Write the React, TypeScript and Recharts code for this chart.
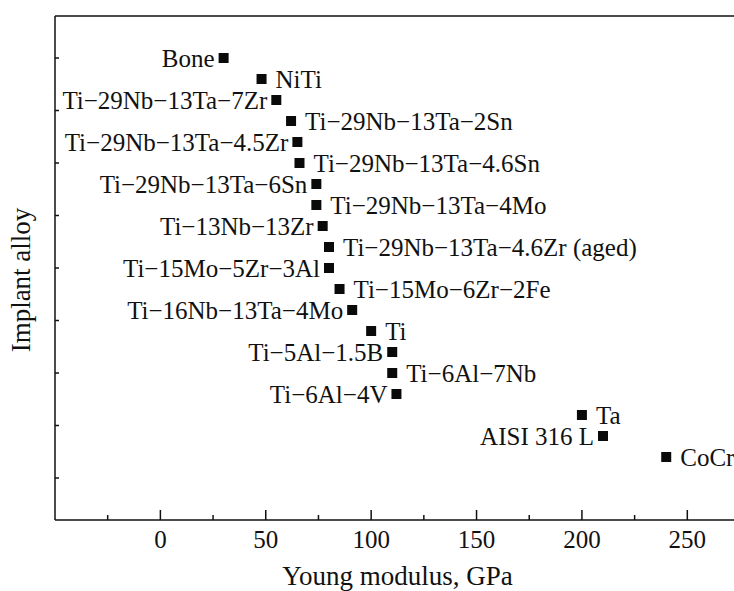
import { Label, Scatter, ScatterChart, XAxis, YAxis } from 'recharts';

const alloyNames = [
  'Bone',
  'NiTi',
  'Ti−29Nb−13Ta−7Zr',
  'Ti−29Nb−13Ta−2Sn',
  'Ti−29Nb−13Ta−4.5Zr',
  'Ti−29Nb−13Ta−4.6Sn',
  'Ti−29Nb−13Ta−6Sn',
  'Ti−29Nb−13Ta−4Mo',
  'Ti−13Nb−13Zr',
  'Ti−29Nb−13Ta−4.6Zr (aged)',
  'Ti−15Mo−5Zr−3Al',
  'Ti−15Mo−6Zr−2Fe',
  'Ti−16Nb−13Ta−4Mo',
  'Ti',
  'Ti−5Al−1.5B',
  'Ti−6Al−7Nb',
  'Ti−6Al−4V',
  'Ta',
  'AISI 316 L',
  'CoCr',
];

const youngModulus = [30, 48, 55, 62, 65, 66, 74, 74, 77, 80, 80, 85, 91, 100, 110, 110, 112, 200, 210, 240];

const xTicks = [-25, 0, 25, 50, 75, 100, 125, 150, 175, 200, 225, 250];
const yTicks = [0, 2.5, 5, 7.5, 10, 12.5, 15, 17.5, 20];

const data = alloyNames.map((name, i) => ({ name, modulus: youngModulus[i], row: i }));

const INK = '#111';
const FONT = '"Liberation Serif", "DejaVu Serif", serif';

function BottomTick({ x, y, payload }: any) {
  const major = payload.value % 50 === 0;
  return (
    <g>
      <line x1={x} x2={x} y1={y} y2={y - (major ? 10 : 5)} stroke={INK} strokeWidth={1.5} />
      {major && (
        <text x={x} y={y + 28} textAnchor="middle" fontSize={25} fontFamily={FONT} fill={INK}>
          {payload.value}
        </text>
      )}
    </g>
  );
}

function TopTick({ x, y, payload }: any) {
  const major = payload.value % 50 === 0;
  return <line x1={x} x2={x} y1={y} y2={y + (major ? 10 : 6)} stroke={INK} strokeWidth={1.5} />;
}

function LeftTick({ x, y }: any) {
  return <line x1={x} x2={x + 4} y1={y} y2={y} stroke={INK} strokeWidth={1.5} />;
}

function Marker({ cx, cy, payload }: any) {
  const left = payload.row % 2 === 0;
  return (
    <g>
      <rect x={cx - 5} y={cy - 5} width={10} height={10} fill="#0a0a0a" />
      <text
        x={left ? cx - 9 : cx + 14}
        y={cy + 8.5}
        textAnchor={left ? 'end' : 'start'}
        fontSize={25}
        fontFamily={FONT}
        fill={INK}
      >
        {payload.name}
      </text>
    </g>
  );
}

export default function App() {
  return (
    <div style={{ position: 'absolute', left: 0, top: 0, background: '#fff' }}>
      <ScatterChart width={734} height={591} margin={{ top: 0, right: -6, bottom: 0, left: 0 }}>
        <XAxis
          type="number"
          dataKey="modulus"
          domain={[-50, 275]}
          ticks={xTicks}
          interval={0}
          height={71}
          tickSize={0}
          tickMargin={0}
          tick={<BottomTick />}
          axisLine={{ stroke: INK, strokeWidth: 1.5 }}
          label={
            <Label
              content={({ viewBox }: any) => (
                <text
                  x={viewBox.x + viewBox.width / 2}
                  y={viewBox.y + 65}
                  textAnchor="middle"
                  fontSize={27}
                  fontFamily={FONT}
                  fill={INK}
                >
                  Young modulus, GPa
                </text>
              )}
            />
          }
        />
        <XAxis
          xAxisId="top"
          orientation="top"
          type="number"
          domain={[-50, 275]}
          ticks={xTicks}
          interval={0}
          height={16}
          tickSize={0}
          tickMargin={0}
          tick={<TopTick />}
          axisLine={{ stroke: INK, strokeWidth: 1.5 }}
        />
        <YAxis
          type="number"
          dataKey="row"
          domain={[-2, 22]}
          reversed
          ticks={yTicks}
          interval={0}
          width={55}
          tickSize={0}
          tickMargin={0}
          tick={<LeftTick />}
          axisLine={{ stroke: INK, strokeWidth: 1.5 }}
          label={
            <Label
              content={({ viewBox }: any) => {
                const cx = viewBox.x + 30;
                const cy = viewBox.y + viewBox.height / 2 + 12;
                return (
                  <text
                    x={cx}
                    y={cy}
                    transform={`rotate(-90, ${cx}, ${cy})`}
                    textAnchor="middle"
                    fontSize={27}
                    fontFamily={FONT}
                    fill={INK}
                  >
                    Implant alloy
                  </text>
                );
              }}
            />
          }
        />
        <Scatter data={data} shape={<Marker />} isAnimationActive={false} />
      </ScatterChart>
    </div>
  );
}
